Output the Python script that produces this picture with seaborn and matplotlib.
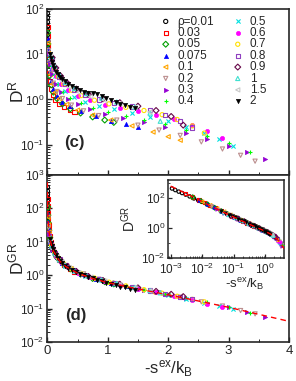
import matplotlib
matplotlib.use("Agg")
import matplotlib.pyplot as plt
import seaborn as sns
from matplotlib.ticker import LogLocator, MultipleLocator, NullFormatter

# ---- data ----
rho_labels = ["ρ=0.01", "0.03", "0.05", "0.075", "0.1", "0.2", "0.3", "0.4",
              "0.5", "0.6", "0.7", "0.8", "0.9", "1", "1.5", "2"]

s_001 = [0.0011, 0.0014, 0.0018, 0.0023, 0.003, 0.004, 0.0055, 0.0075, 0.01, 0.014, 0.02]
dr_001 = [80, 65, 52, 42, 34, 27, 21, 17, 14, 11.5, 9.5]
dgr_001 = [420, 330, 260, 210, 165, 125, 92, 70, 54, 39, 28]

s_003 = [0.003, 0.005, 0.008, 0.012, 0.018, 0.027, 0.04, 0.06, 0.09, 0.13, 0.19, 0.27, 0.37, 0.45]
dr_003 = [40, 25, 15, 9.5, 6, 3.8, 2.5, 1.7, 1.25, 0.98, 0.8, 0.67, 0.58, 0.53]
dgr_003 = [190, 115, 72, 48, 32, 22, 14.5, 9.5, 6.2, 4.2, 2.9, 2.0, 1.5, 1.25]

s_005 = [0.005, 0.009, 0.015, 0.025, 0.04, 0.065, 0.1, 0.16, 0.25, 0.38, 0.55, 0.75, 0.95, 1.1]
dr_005 = [30, 17, 10, 5.8, 3.4, 2.1, 1.45, 1.05, 0.8, 0.62, 0.5, 0.41, 0.35, 0.31]
dgr_005 = [110, 62, 37, 22, 13.5, 8.2, 5.4, 3.4, 2.3, 1.55, 1.08, 0.8, 0.64, 0.55]

s_0075 = [0.008, 0.014, 0.024, 0.04, 0.065, 0.1, 0.16, 0.25, 0.38, 0.55, 0.8, 1.05, 1.3, 1.5]
dr_0075 = [22, 13, 7.5, 4.3, 2.6, 1.7, 1.2, 0.9, 0.7, 0.55, 0.43, 0.34, 0.28, 0.25]
dgr_0075 = [70, 40, 24, 14, 8.4, 5.5, 3.5, 2.35, 1.6, 1.12, 0.78, 0.58, 0.47, 0.41]

s_01 = [0.01, 0.018, 0.03, 0.05, 0.08, 0.13, 0.2, 0.32, 0.5, 0.75, 1.05, 1.4, 1.75, 2.0, 2.2]
dr_01 = [18, 10.5, 6.2, 3.6, 2.2, 1.45, 1.05, 0.78, 0.58, 0.45, 0.35, 0.26, 0.19, 0.15, 0.125]
dgr_01 = [55, 32, 19.5, 12, 7.4, 4.5, 2.9, 1.9, 1.2, 0.8, 0.58, 0.43, 0.31, 0.26, 0.22]

s_02 = [0.02, 0.035, 0.06, 0.1, 0.16, 0.25, 0.4, 0.6, 0.85, 1.15, 1.5, 1.85, 2.2, 2.55, 2.9, 3.2, 3.44]
dr_02 = [12, 6.5, 3.8, 2.3, 1.5, 1.05, 0.75, 0.56, 0.44, 0.35, 0.27, 0.21, 0.16, 0.115, 0.08, 0.058, 0.043]
dgr_02 = [27, 14.5, 8.3, 5.2, 3.4, 2.3, 1.55, 1.1, 0.76, 0.56, 0.4, 0.3, 0.22, 0.16, 0.12, 0.088, 0.07]

s_03 = [0.03, 0.05, 0.085, 0.14, 0.22, 0.34, 0.5, 0.7, 0.95, 1.25, 1.6, 1.95, 2.3, 2.65, 3.0, 3.3, 3.6]
dr_03 = [10, 6, 3.6, 2.2, 1.45, 1.02, 0.78, 0.6, 0.48, 0.39, 0.31, 0.24, 0.18, 0.135, 0.095, 0.07, 0.048]
dgr_03 = [17, 10, 6.2, 4.0, 2.7, 1.85, 1.3, 0.93, 0.68, 0.5, 0.37, 0.28, 0.21, 0.15, 0.11, 0.08, 0.058]

s_04 = [0.04, 0.07, 0.11, 0.17, 0.26, 0.38, 0.55, 0.75, 1.0, 1.3, 1.6, 1.95, 2.3, 2.65, 3.0, 3.36]
dr_04 = [9, 5.4, 3.4, 2.2, 1.5, 1.08, 0.82, 0.65, 0.53, 0.43, 0.35, 0.28, 0.21, 0.155, 0.11, 0.07]
dgr_04 = [13, 7.7, 5.0, 3.3, 2.3, 1.6, 1.15, 0.85, 0.63, 0.47, 0.37, 0.28, 0.21, 0.155, 0.11, 0.075]

s_05 = [0.05, 0.08, 0.13, 0.2, 0.3, 0.44, 0.62, 0.85, 1.1, 1.4, 1.7, 2.0, 2.3, 2.6, 2.85, 3.08]
dr_05 = [8.5, 5.2, 3.3, 2.2, 1.55, 1.15, 0.9, 0.72, 0.6, 0.5, 0.41, 0.33, 0.25, 0.18, 0.13, 0.092]
dgr_05 = [10.5, 6.8, 4.3, 2.8, 1.9, 1.35, 0.97, 0.72, 0.55, 0.44, 0.34, 0.26, 0.2, 0.15, 0.12, 0.095]

s_06 = [0.06, 0.1, 0.15, 0.23, 0.34, 0.5, 0.7, 0.95, 1.2, 1.5, 1.8, 2.1, 2.4, 2.65, 2.9]
dr_06 = [8, 5, 3.3, 2.2, 1.6, 1.2, 0.95, 0.77, 0.65, 0.55, 0.45, 0.36, 0.27, 0.2, 0.14]
dgr_06 = [9, 5.6, 3.8, 2.5, 1.75, 1.2, 0.88, 0.65, 0.52, 0.4, 0.31, 0.24, 0.18, 0.14, 0.115]

s_07 = [0.07, 0.12, 0.18, 0.27, 0.4, 0.56, 0.78, 1.02, 1.3, 1.6, 1.9, 2.15, 2.4, 2.6]
dr_07 = [8, 4.8, 3.2, 2.2, 1.6, 1.22, 0.96, 0.8, 0.67, 0.57, 0.46, 0.36, 0.26, 0.18]
dgr_07 = [7.7, 4.8, 3.3, 2.2, 1.55, 1.1, 0.82, 0.62, 0.48, 0.37, 0.29, 0.235, 0.19, 0.16]

s_08 = [0.08, 0.13, 0.2, 0.3, 0.44, 0.62, 0.85, 1.1, 1.4, 1.7, 1.95, 2.2, 2.4]
dr_08 = [8, 4.8, 3.2, 2.25, 1.65, 1.27, 1.0, 0.83, 0.7, 0.58, 0.46, 0.34, 0.24]
dgr_08 = [6.8, 4.5, 3.0, 2.0, 1.4, 1.0, 0.76, 0.58, 0.44, 0.35, 0.28, 0.23, 0.2]

s_09 = [0.08, 0.14, 0.22, 0.33, 0.48, 0.68, 0.92, 1.2, 1.5, 1.8, 2.05, 2.25]
dr_09 = [8.5, 5, 3.3, 2.3, 1.7, 1.3, 1.03, 0.85, 0.71, 0.57, 0.42, 0.27]
dgr_09 = [6.5, 4.2, 2.8, 1.85, 1.3, 0.92, 0.7, 0.54, 0.42, 0.33, 0.27, 0.23]

s_1 = [0.07, 0.12, 0.2, 0.3, 0.45, 0.65, 0.9, 1.15, 1.45, 1.7, 1.87]
dr_1 = [9, 5.5, 3.5, 2.4, 1.75, 1.35, 1.07, 0.88, 0.68, 0.5, 0.33]
dgr_1 = [7.4, 4.6, 2.9, 1.95, 1.35, 0.97, 0.72, 0.57, 0.43, 0.35, 0.3]

s_15 = [0.05, 0.09, 0.15, 0.24, 0.36, 0.52, 0.72, 0.95, 1.2, 1.45, 1.7]
dr_15 = [10, 6, 3.8, 2.6, 1.9, 1.45, 1.15, 0.95, 0.8, 0.67, 0.53]
dgr_15 = [10, 6, 3.8, 2.5, 1.7, 1.2, 0.88, 0.67, 0.52, 0.42, 0.34]

s_2 = [0.04, 0.055, 0.07, 0.09, 0.11, 0.14, 0.17, 0.21, 0.25, 0.3, 0.35, 0.41, 0.47,
       0.54, 0.61, 0.68, 0.75, 0.82, 0.9, 0.97, 1.05, 1.13, 1.21, 1.29, 1.37, 1.45]
dr_2 = [10, 8.2, 6.9, 5.7, 4.9, 4.1, 3.6, 3.1, 2.8, 2.5, 2.2, 1.95, 1.75,
        1.6, 1.5, 1.42, 1.36, 1.3, 1.22, 1.08, 0.97, 0.88, 0.8, 0.74, 0.69, 0.65]
dgr_2 = [12.5, 9.5, 7.6, 6.0, 5.0, 4.0, 3.3, 2.75, 2.35, 1.95, 1.68, 1.45, 1.28,
         1.12, 1.0, 0.9, 0.8, 0.73, 0.66, 0.6, 0.55, 0.5, 0.46, 0.43, 0.4, 0.37]

# fitted master curve (red dashed)
fit_s = [0.001, 0.002, 0.004, 0.007, 0.01, 0.02, 0.04, 0.07, 0.1, 0.2, 0.3, 0.5,
         0.75, 1.0, 1.5, 2.0, 2.5, 3.0, 3.5, 4.0]
fit_d = [600, 300, 150, 85, 55, 27, 13, 7.6, 5.3, 2.7, 1.85, 1.15,
         0.8, 0.6, 0.39, 0.26, 0.17, 0.11, 0.068, 0.042]

series = [(s_001, dr_001, dgr_001), (s_003, dr_003, dgr_003), (s_005, dr_005, dgr_005),
          (s_0075, dr_0075, dgr_0075), (s_01, dr_01, dgr_01), (s_02, dr_02, dgr_02),
          (s_03, dr_03, dgr_03), (s_04, dr_04, dgr_04), (s_05, dr_05, dgr_05),
          (s_06, dr_06, dgr_06), (s_07, dr_07, dgr_07), (s_08, dr_08, dgr_08),
          (s_09, dr_09, dgr_09), (s_1, dr_1, dgr_1), (s_15, dr_15, dgr_15),
          (s_2, dr_2, dgr_2)]

# marker, colour, hollow?
styles = [("o", "#000000", True), ("s", "#ff0000", True), ("D", "#00a000", True),
          ("^", "#0000ff", False), ("<", "#ffa500", True), ("v", "#bc8f8f", True),
          (">", "#9400d3", False), ("+", "#00ff00", False), ("x", "#00e0e0", False),
          ("o", "#ff00ff", False), ("o", "#ffe000", True), ("s", "#9040c0", True),
          ("D", "#670748", True), ("^", "#40e0d0", True), ("<", "#c8c8c8", True),
          ("v", "#000000", False)]

# ---- figure ----
sns.set_style("ticks")
plt.rcParams['font.family'] = ['Liberation Sans', 'DejaVu Sans']
plt.rcParams['mathtext.fontset'] = 'custom'
plt.rcParams['mathtext.rm'] = 'Liberation Sans'
plt.rcParams['mathtext.it'] = 'Liberation Sans:italic'
plt.rcParams['mathtext.default'] = 'regular'

fig = plt.figure(figsize=(2.96, 3.81), dpi=100)
ax1 = fig.add_axes([0.160, 0.541, 0.816, 0.435])
ax2 = fig.add_axes([0.160, 0.102, 0.816, 0.439])
ax3 = fig.add_axes([0.566, 0.323, 0.393, 0.205])


def draw(ax, x, y, st, size, lab=None):
    m, c, hollow = st
    if m in ("+", "x"):
        sns.scatterplot(x=x, y=y, ax=ax, marker=m, s=size, color=c, edgecolor=c,
                        linewidth=0.8, label=lab, legend=False, zorder=3)
    elif hollow:
        sns.scatterplot(x=x, y=y, ax=ax, marker=m, s=size, facecolor="none",
                        edgecolor=c, linewidth=0.8, label=lab, legend=False, zorder=3)
    else:
        sns.scatterplot(x=x, y=y, ax=ax, marker=m, s=size, color=c, edgecolor=c,
                        linewidth=0.5, label=lab, legend=False, zorder=3)


for (s, dr, dgr), st, lab in zip(series, styles, rho_labels):
    draw(ax1, s, dr, st, 9, lab)
    draw(ax2, s, dgr, st, 9)
    draw(ax3, s, dgr, st, 6)

sns.lineplot(x=fit_s, y=fit_d, ax=ax2, color="red", linestyle=(0, (4, 3)),
             linewidth=1.0, zorder=5)
sns.lineplot(x=fit_s, y=fit_d, ax=ax3, color="red", linestyle=(0, (4, 3)),
             linewidth=1.0, zorder=5)

# top panel
ax1.set_yscale("log")
ax1.set_xlim(0, 4)
ax1.set_ylim(10 ** -1.67, 100)
ax1.set_ylabel("D$^{R}$", fontsize=12.5)
ax1.yaxis.set_label_coords(-0.085, 0.5)
ax1.set_xlabel("")
ax1.tick_params(labelbottom=False)
ax1.text(0.07, 0.17, "(c)", transform=ax1.transAxes, fontsize=12, fontweight="bold")
leg = ax1.legend(ncol=2, frameon=False, fontsize=8.5, loc="upper left",
                 bbox_to_anchor=(0.446, 0.99), handletextpad=0.5, columnspacing=1.5,
                 labelspacing=-0.05, handlelength=1.0, borderaxespad=0.0)

# bottom panel
ax2.set_yscale("log")
ax2.set_xlim(0, 4)
ax2.set_ylim(1e-2, 1e3)
ax2.set_ylabel("D$^{GR}$", fontsize=12.5)
ax2.yaxis.set_label_coords(-0.085, 0.5)
ax2.set_xlabel("-s$^{ex}$/k$_{B}$", fontsize=12, labelpad=1)
ax2.text(0.075, 0.13, "(d)", transform=ax2.transAxes, fontsize=12, fontweight="bold")

for ax in (ax1, ax2):
    ax.xaxis.set_major_locator(MultipleLocator(1))
    ax.xaxis.set_minor_locator(MultipleLocator(0.5))
    ax.yaxis.set_major_locator(LogLocator(base=10, numticks=10))
    ax.yaxis.set_minor_locator(LogLocator(base=10, subs=range(2, 10), numticks=20))
    ax.yaxis.set_minor_formatter(NullFormatter())
    ax.tick_params(which="both", direction="in", top=False, right=False, pad=2)
    ax.tick_params(axis="y", labelsize=8.5)
    ax.tick_params(axis="x", labelsize=9.5)
    ax.tick_params(which="major", length=3.5, width=1)
    ax.tick_params(which="minor", length=2, width=0.7)
    for sp in ax.spines.values():
        sp.set_linewidth(1.2)

# inset
ax3.set_xscale("log")
ax3.set_yscale("log")
ax3.set_xlim(10 ** -3.1, 10 ** 0.6)
ax3.set_ylim(1e-2, 10 ** 3.2)
ax3.xaxis.set_major_locator(LogLocator(base=10, numticks=10))
ax3.xaxis.set_minor_locator(LogLocator(base=10, subs=range(2, 10), numticks=20))
ax3.xaxis.set_minor_formatter(NullFormatter())
ax3.yaxis.set_major_locator(LogLocator(base=100, numticks=10))
ax3.yaxis.set_minor_locator(LogLocator(base=10, subs=(1.0,), numticks=20))
ax3.yaxis.set_minor_formatter(NullFormatter())
ax3.set_xlabel("-s$^{ex}$/k$_{B}$", fontsize=9.5)
ax3.xaxis.set_label_coords(0.66, -0.24)
ax3.set_ylabel("D$^{GR}$", fontsize=10)
ax3.yaxis.set_label_coords(-0.25, 0.5)
ax3.tick_params(which="both", direction="in", top=False, right=False,
                labelsize=8.5, pad=1.5)
ax3.tick_params(axis="x", pad=3)
ax3.tick_params(which="major", length=3, width=0.9)
ax3.tick_params(which="minor", length=1.5, width=0.6)
for sp in ax3.spines.values():
    sp.set_linewidth(1.1)
ax3.set_facecolor("white")

fig.savefig("out.png", dpi=100)
